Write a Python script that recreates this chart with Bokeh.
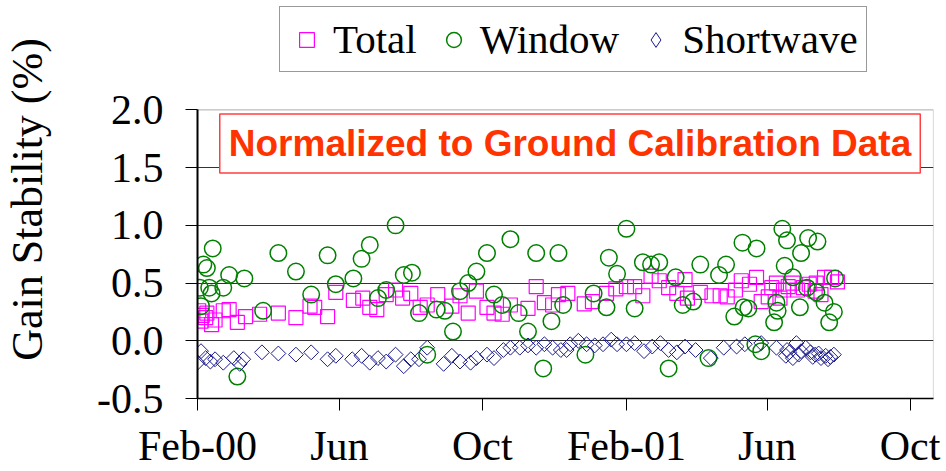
import datetime as dt
import numpy as np
from bokeh.plotting import figure
from bokeh.models import (Range1d, FixedTicker, NumeralTickFormatter, Legend,
                          LegendItem, Label, ColumnDataSource, BoxAnnotation)
from bokeh.embed import file_html
from bokeh.resources import INLINE

# ---------------- data (days since 2000-02-01, gain stability in %) -------------
start_date = "2000-02-01"

total_days = [1, 3, 4, 7, 8, 12, 15, 22, 27, 34,
              41, 53, 69, 84, 96, 100, 111, 118, 133, 141,
              147, 153, 161, 169, 175, 182, 190, 196, 205, 217,
              224, 231, 238, 247, 253, 260, 267, 282, 289, 296,
              303, 308, 316, 330, 337, 349, 357, 366, 373, 380,
              387, 394, 402, 409, 416, 418, 429, 439, 446, 452,
              459, 464, 471, 477, 481, 487, 490, 494, 497, 500,
              504, 508, 512, 517, 522, 527, 528, 532, 535, 541,
              546]
total_vals = [0.26, 0.17, 0.22, 0.20, 0.24, 0.14, 0.18, 0.26, 0.27, 0.16,
              0.21, 0.23, 0.24, 0.20, 0.30, 0.29, 0.21, 0.42, 0.35, 0.37,
              0.29, 0.27, 0.40, 0.44, 0.37, 0.41, 0.29, 0.31, 0.40, 0.30,
              0.39, 0.24, 0.43, 0.29, 0.24, 0.23, 0.31, 0.28, 0.47, 0.33,
              0.31, 0.40, 0.41, 0.32, 0.34, 0.41, 0.45, 0.47, 0.47, 0.39,
              0.56, 0.52, 0.46, 0.41, 0.53, 0.37, 0.42, 0.39, 0.39, 0.38,
              0.44, 0.52, 0.49, 0.55, 0.34, 0.38, 0.46, 0.50, 0.37, 0.44,
              0.47, 0.50, 0.44, 0.46, 0.49, 0.43, 0.50, 0.40, 0.55, 0.55,
              0.51]

window_days = [2, 3, 5, 8, 10, 12, 13, 22, 27, 34,
               40, 56, 69, 84, 97, 111, 118, 133, 140, 147,
               154, 161, 169, 176, 183, 189, 196, 204, 211, 218,
               224, 231, 238, 247, 253, 260, 267, 274, 282, 289,
               295, 302, 308, 312, 331, 338, 349, 351, 358, 366,
               373, 380, 387, 394, 402, 408, 414, 423, 429, 436,
               445, 451, 458, 465, 466, 470, 476, 477, 481, 492,
               494, 495, 499, 501, 503, 508, 514, 515, 520, 521,
               528, 529, 535, 539, 543, 544]
window_vals = [0.46, 0.30, 0.66, 0.63, 0.46, 0.41, 0.80, 0.46, 0.57, -0.31,
               0.54, 0.26, 0.76, 0.60, 0.40, 0.74, 0.49, 0.54, 0.71, 0.83,
               0.37, 0.44, 1.00, 0.57, 0.59, 0.24, -0.12, 0.27, 0.26, 0.08,
               0.43, 0.50, 0.60, 0.76, 0.40, 0.31, 0.88, 0.24, 0.08, 0.76,
               -0.24, 0.17, 0.76, 0.31, -0.12, 0.41, 0.29, 0.72, 0.58, 0.97,
               0.28, 0.68, 0.66, 0.68, -0.24, 0.55, 0.31, 0.34, 0.66, -0.15,
               0.57, 0.66, 0.21, 0.85, 0.29, 0.28, -0.03, 0.80, -0.09, 0.16,
               0.33, 0.26, 0.97, 0.65, 0.87, 0.55, 0.29, 0.76, 0.46, 0.89,
               0.42, 0.86, 0.33, 0.16, 0.25, 0.54]

shortwave_days = [0, 3, 7, 11, 15, 22, 31, 36, 39, 55,
                  69, 84, 97, 111, 118, 132, 140, 147, 154, 161,
                  169, 176, 182, 189, 196, 210, 217, 224, 233, 238,
                  247, 253, 261, 267, 275, 282, 289, 296, 303, 310,
                  315, 318, 325, 332, 339, 346, 353, 358, 366, 373,
                  381, 388, 395, 402, 409, 416, 425, 438, 449, 460,
                  467, 481, 494, 502, 503, 508, 511, 515, 519, 527,
                  532, 538, 543, 505, 513, 523, 525, 530, 536, 540]
shortwave_vals = [-0.19, -0.09, -0.15, -0.18, -0.16, -0.19, -0.15, -0.20, -0.16, -0.10,
                  -0.11, -0.12, -0.10, -0.16, -0.13, -0.16, -0.13, -0.19, -0.15, -0.18,
                  -0.12, -0.22, -0.16, -0.16, -0.06, -0.20, -0.13, -0.18, -0.19, -0.15,
                  -0.12, -0.15, -0.08, -0.06, -0.06, -0.04, -0.06, -0.03, -0.06, -0.08,
                  -0.08, -0.03, 0.00, -0.03, -0.04, -0.03, 0.01, -0.03, -0.03, -0.02,
                  -0.09, -0.05, -0.02, -0.08, -0.10, -0.05, -0.08, -0.15, -0.06, -0.05,
                  -0.03, -0.02, -0.06, -0.13, -0.08, -0.15, -0.02, -0.09, -0.06, -0.12,
                  -0.15, -0.16, -0.12, -0.10, -0.12, -0.10, -0.14, -0.11, -0.13, -0.14]

tick_dates = ["2000-02-01", "2000-06-01", "2000-10-01", "2001-02-01", "2001-06-01", "2001-10-01"]
tick_labels = ["Feb-00", "Jun", "Oct", "Feb-01", "Jun", "Oct"]
y_ticks = [-0.5, 0.0, 0.5, 1.0, 1.5, 2.0]
series_names = ["Total", "Window", "Shortwave"]
note_text = "Normalized to Ground Calibration Data"

X_START, X_END = "2000-02-01", "2001-10-21"
Y_MIN, Y_MAX = -0.5, 2.0


def to_dates(days):
    return np.datetime64(start_date) + np.array(days, dtype="timedelta64[D]")


def ms(s):
    d = dt.datetime.strptime(s, "%Y-%m-%d")
    return (d - dt.datetime(1970, 1, 1)).total_seconds() * 1000.0


SERIF = "Liberation Serif"
SANS = "Liberation Sans"

# the plotting frame reaches up to the top of the canvas so that the legend
# (which sits above the data box) is drawn inside it; the data box is outlined
# separately and spans Y_MIN..Y_MAX.
p = figure(width=946, height=471, x_axis_type="datetime",
           output_backend="svg", toolbar_location=None,
           x_range=Range1d(ms(X_START), ms(X_END)),
           y_range=Range1d(Y_MIN, 2.948),
           min_border_left=195, min_border_right=13,
           min_border_top=0, min_border_bottom=71)
p.background_fill_color = "white"
p.border_fill_color = "white"
p.outline_line_color = None
# off-screen range, used only by the legend swatch of the diamonds
p.extra_y_ranges = {"legend_key": Range1d(100, 101)}

src_t = ColumnDataSource(dict(x=to_dates(total_days), y=total_vals))
src_w = ColumnDataSource(dict(x=to_dates(window_days), y=window_vals))
src_s = ColumnDataSource(dict(x=to_dates(shortwave_days), y=shortwave_vals))

r_t = p.scatter("x", "y", source=src_t, marker="square", size=14,
                fill_color=None, line_color="#FF00FF", line_width=1.2)
r_w = p.scatter("x", "y", source=src_w, marker="circle", size=16.5,
                fill_color=None, line_color="#008000", line_width=1.5)
r_s = p.scatter("x", "y", source=src_s, marker="square", size=10.5, angle=np.pi / 4,
                fill_color=None, line_color="#1a1a8c", line_width=1)
# legend swatch for the diamonds (legend glyphs ignore the angle)
r_s_key = p.scatter("x", "y", source=src_s, y_range_name="legend_key",
                    marker="diamond", size=15,
                    fill_color=None, line_color="#1a1a8c", line_width=1)

# data box outline
p.add_layout(BoxAnnotation(left=ms(X_START), right=ms(X_END), bottom=Y_MIN, top=Y_MAX,
                           fill_color=None, fill_alpha=0, line_color="#222222",
                           line_width=1.2, level="underlay"))

# axes
xt = [ms(d) for d in tick_dates]
p.xaxis.ticker = FixedTicker(ticks=xt)
p.xaxis.major_label_overrides = {t: l for t, l in zip(xt, tick_labels)}
p.yaxis.ticker = FixedTicker(ticks=y_ticks)
p.yaxis.formatter = NumeralTickFormatter(format="0.0")
p.yaxis.bounds = (Y_MIN, Y_MAX)
for ax in (p.xaxis[0], p.yaxis[0]):
    ax.major_label_text_font = SERIF
    ax.major_label_text_font_size = "42px"
    ax.major_label_text_color = "black"
    ax.major_tick_out = 12
    ax.major_tick_in = 0
    ax.minor_tick_out = 0
    ax.minor_tick_in = 0
    ax.major_tick_line_color = "black"
    ax.axis_line_color = "black"
p.yaxis.axis_line_width = 2
p.xaxis.axis_line_width = 1.5
p.yaxis.major_label_standoff = 22
p.xaxis.major_label_standoff = 12
p.yaxis.axis_label = "Gain Stability (%)"
p.yaxis.axis_label_text_font = SERIF
p.yaxis.axis_label_text_font_size = "44px"
p.yaxis.axis_label_text_font_style = "normal"
p.yaxis.axis_label_text_color = "black"
p.yaxis.axis_label_standoff = 42

p.xgrid.visible = False
p.ygrid.ticker = FixedTicker(ticks=y_ticks[1:-1])
p.ygrid.grid_line_color = "#333333"
p.ygrid.grid_line_width = 1.2

# note box
p.add_layout(Label(x=ms("2000-02-20"), y=1.71, text=note_text,
                   text_font=SANS, text_font_size="37px", text_font_style="bold",
                   text_color="#FF3300", text_align="left", text_baseline="middle",
                   border_line_color="#FF4040", border_line_width=1.5,
                   background_fill_color="white", padding=9))

legend = Legend(items=[LegendItem(label=series_names[0], renderers=[r_t]),
                       LegendItem(label=series_names[1], renderers=[r_w]),
                       LegendItem(label=series_names[2], renderers=[r_s_key])],
                orientation="horizontal", location=(82, 326),
                label_text_font=SERIF, label_text_font_size="41px",
                label_text_color="black",
                glyph_width=37, glyph_height=37, label_standoff=8, spacing=18,
                padding=8, margin=0, border_line_color="#333333",
                border_line_width=1.5, background_fill_color="white",
                background_fill_alpha=1.0)
p.add_layout(legend)

open("out.html", "w").write(file_html(p, INLINE))
